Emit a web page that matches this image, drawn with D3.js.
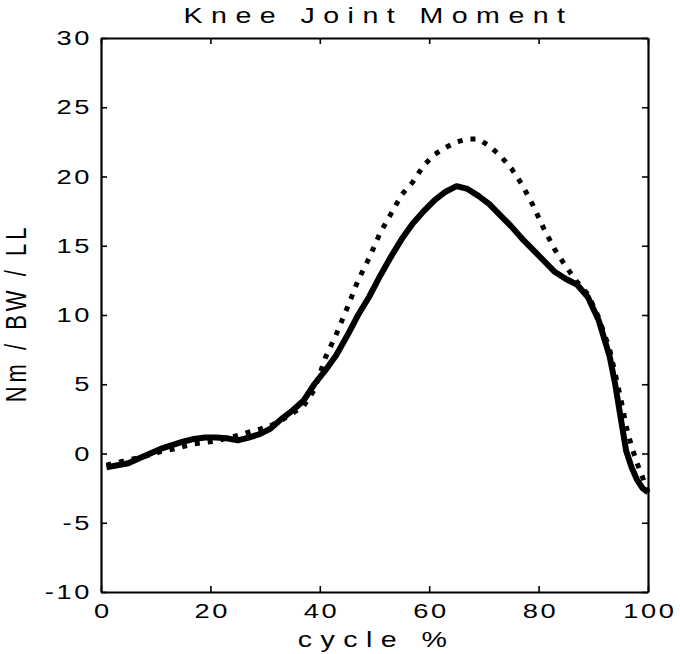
<!DOCTYPE html>
<meta charset="utf-8">
<script src="https://d3js.org/d3.v7.min.js"></script>
<style>
  body { margin: 0; background: #fff; }
  text { font-family: "Liberation Sans", Arial, sans-serif; fill: #000; }
</style>
<div id="my_dataviz"></div>
<script>

// data
var solidX = [1,3,5,7,9,11,13,15,17,19,21,23,25,27,29,31,33,35,37,39,41,43,45,47,49,51,53,55,57,59,61,63,65,67,69,71,73,75,77,79,81,83,85,87,89,91,93,94,95,96,97,98,99,100];
var solidY = [-1.0,-0.85,-0.7,-0.35,0.0,0.35,0.6,0.85,1.05,1.15,1.15,1.1,0.95,1.15,1.4,1.8,2.5,3.1,3.8,5.0,6.0,7.1,8.5,10.0,11.3,12.8,14.2,15.5,16.6,17.5,18.3,18.9,19.3,19.1,18.6,18.0,17.2,16.4,15.5,14.7,13.9,13.1,12.6,12.2,11.3,9.6,7.0,5.0,2.6,0.2,-1.0,-1.9,-2.5,-2.8];

var dotX = [1,3,5,7,9,11,13,15,17,19,21,23,25,27,29,31,33,35,37,39,41,43,45,47,49,51,53,55,57,59,61,63,65,67,69,71,73,75,77,79,81,83,85,87,89,91,93,95,96,97,98,99,100];
var dotY = [-0.85,-0.65,-0.45,-0.3,-0.1,0.15,0.3,0.5,0.7,0.8,0.9,1.1,1.3,1.55,1.75,2.0,2.4,2.9,3.4,4.6,6.9,8.6,10.5,12.5,14.1,15.9,17.3,18.7,19.6,20.8,21.6,22.1,22.5,22.7,22.7,22.2,21.5,20.6,19.4,17.9,16.2,14.7,13.5,12.4,11.5,9.8,7.5,4.0,2.0,0.5,-0.7,-1.7,-2.8];

var xTicks = [0, 20, 40, 60, 80, 100];
var yTicks = [-10, -5, 0, 5, 10, 15, 20, 25, 30];

var margin = {top: 38, right: 32, bottom: 62, left: 101},
    width = 680 - margin.left - margin.right,
    height = 654 - margin.top - margin.bottom;

// the old figure is stretched sideways, text included
var sx = 1.3;

var svg = d3.select("#my_dataviz")
  .append("svg")
    .attr("width", 680)
    .attr("height", 654)
  .append("g")
    .attr("transform", "translate(" + margin.left + "," + margin.top + ")");

var x = d3.scaleLinear().domain([0, 100]).range([0, width]);
var y = d3.scaleLinear().domain([-10, 30]).range([height, 0]);

function fmt(d) { return String(d); }

function styleAxis(g) {
  g.select(".domain").attr("stroke-width", 2.2);
  g.selectAll(".tick line").attr("stroke-width", 1.6);
  g.selectAll(".tick text")
    .style("font-size", "21px")
    .style("letter-spacing", "2px");
}

// axes, ticks pointing inward, box on all four sides
svg.append("g")
  .attr("transform", "translate(0," + height + ")")
  .call(d3.axisBottom(x).tickValues(xTicks).tickFormat(fmt).tickSize(-6).tickSizeOuter(0).tickPadding(11))
  .call(styleAxis)
  .selectAll(".tick text")
    .attr("dx", 1)
    .attr("transform", "scale(" + sx + ",1)");

svg.append("g")
  .call(d3.axisTop(x).tickValues(xTicks).tickSize(-6).tickSizeOuter(0).tickFormat(""))
  .call(styleAxis);

svg.append("g")
  .call(d3.axisLeft(y).tickValues(yTicks).tickFormat(fmt).tickSize(-6).tickSizeOuter(0))
  .call(styleAxis)
  .selectAll(".tick text")
    .attr("x", -9 / sx)
    .attr("transform", "scale(" + sx + ",1)");

svg.append("g")
  .attr("transform", "translate(" + width + ",0)")
  .call(d3.axisRight(y).tickValues(yTicks).tickSize(-6).tickSizeOuter(0).tickFormat(""))
  .call(styleAxis);

// labels
svg.append("text")
  .attr("text-anchor", "middle")
  .attr("transform", "translate(" + (width / 2 + 4) + ",-15) scale(" + sx + ",1)")
  .style("font-size", "22px")
  .style("letter-spacing", "6.5px")
  .text("Knee Joint Moment");

svg.append("text")
  .attr("text-anchor", "middle")
  .attr("transform", "translate(" + (width / 2 + 2) + "," + (height + 55) + ") scale(" + sx + ",1)")
  .style("font-size", "22px")
  .style("letter-spacing", "6.5px")
  .text("cycle %");

svg.append("text")
  .attr("text-anchor", "middle")
  .attr("transform", "translate(-75," + (height / 2 - 2) + ") scale(" + sx + ",1) rotate(-90)")
  .style("font-size", "22px")
  .style("letter-spacing", "4px")
  .text("Nm / BW / LL");

// lines
var line = d3.line()
  .x(function(d) { return x(d[0]); })
  .y(function(d) { return y(d[1]); });

svg.append("path")
  .datum(dotX.map(function(v, i) { return [v, dotY[i]]; }))
  .attr("d", line)
  .attr("fill", "none")
  .attr("stroke", "#000")
  .attr("stroke-width", 5)
  .attr("stroke-dasharray", "5,8");

svg.append("path")
  .datum(solidX.map(function(v, i) { return [v, solidY[i]]; }))
  .attr("d", line)
  .attr("fill", "none")
  .attr("stroke", "#000")
  .attr("stroke-width", 6)
  .attr("stroke-linejoin", "round");

</script>
